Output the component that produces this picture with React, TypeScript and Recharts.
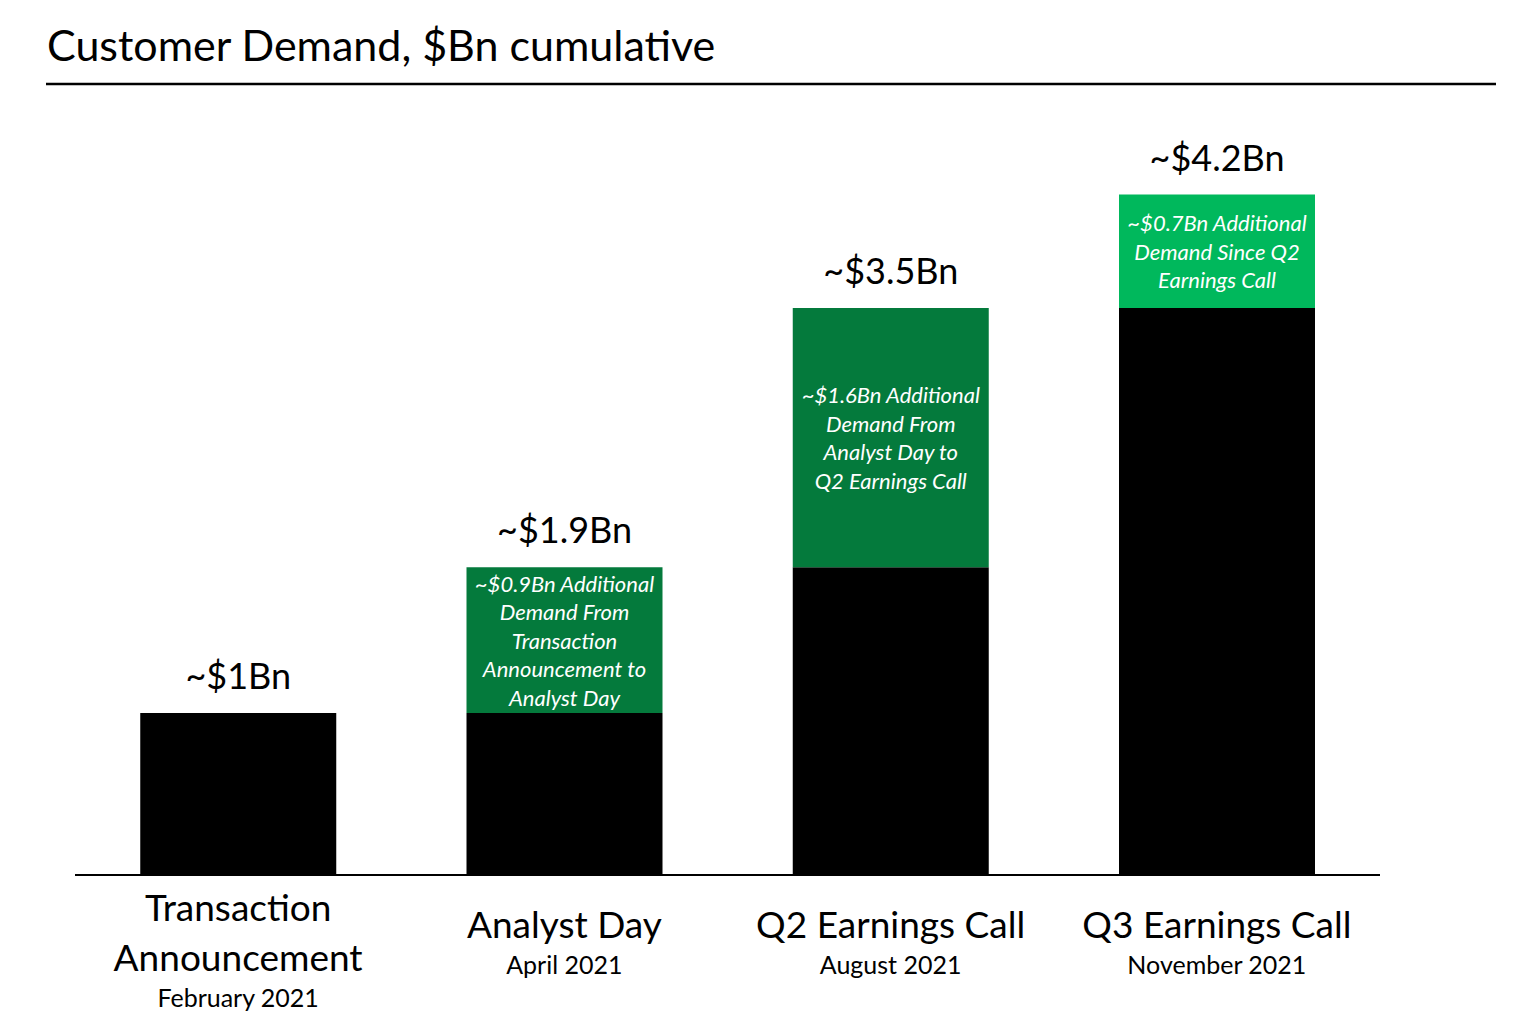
import React from "react";
import { BarChart, Bar, XAxis, YAxis, LabelList, Cell } from "recharts";

const categories = ["Transaction Announcement", "Analyst Day", "Q2 Earnings Call", "Q3 Earnings Call"];
const categoryLines = [["Transaction", "Announcement"], ["Analyst Day"], ["Q2 Earnings Call"], ["Q3 Earnings Call"]];
const dates = ["February 2021", "April 2021", "August 2021", "November 2021"];
const baseValues = [1, 1, 1.9, 3.5];
const addedValues = [0, 0.9, 1.6, 0.7];
const totalLabels = ["~$1Bn", "~$1.9Bn", "~$3.5Bn", "~$4.2Bn"];
const addedNotes = [
  [],
  ["~$0.9Bn Additional", "Demand From", "Transaction", "Announcement to", "Analyst Day"],
  ["~$1.6Bn Additional", "Demand From", "Analyst Day to", "Q2 Earnings Call"],
  ["~$0.7Bn Additional", "Demand Since Q2", "Earnings Call"],
];
const addedColors = ["#047A3C", "#047A3C", "#047A3C", "#00B85C"];

const data = categories.map((c, i) => ({
  name: c,
  base: baseValues[i],
  added: addedValues[i],
}));

const FONT = "Lato, 'Open Sans', sans-serif";

const AxisTick = (props: any) => {
  const { x, payload } = props;
  const idx = payload.index;
  const lines = categoryLines[idx] || [];
  const n = lines.length;
  const axisY = 875;
  const start = 48 - (n - 1) * 17;
  return (
    <g>
      {lines.map((l, k) => (
        <text key={k} x={x} y={axisY + start + k * 50} textAnchor="middle" dominantBaseline="central"
          fontFamily={FONT} fontSize={37} fill="#000">{l}</text>
      ))}
      <text x={x} y={axisY + start + (n - 1) * 50 + 41} textAnchor="middle" dominantBaseline="central"
        fontFamily={FONT} fontSize={25} fill="#000">{dates[idx]}</text>
    </g>
  );
};

const NoteLabel = (props: any) => {
  const { x, y, width, height, value } = props;
  const index = categories.indexOf(value);
  const lines = addedNotes[index] || [];
  const cx = x + width / 2;
  const cy = y + height / 2;
  const lh = 28.5;
  const top = cy - ((lines.length - 1) * lh) / 2;
  return (
    <g>
      {lines.map((l, k) => (
        <text key={k} x={cx} y={top + k * lh} textAnchor="middle" dominantBaseline="central"
          fontFamily={FONT} fontStyle="italic" fontSize={22} fill="#fff">{l}</text>
      ))}
    </g>
  );
};

// Placed on the base series; the stack top is derived from the base bar's own pixel scale.
const TotalLabel = (props: any) => {
  const { x, y, width, height, value } = props;
  const index = categories.indexOf(value);
  if (index < 0) return null;
  const pxPerUnit = height / baseValues[index];
  const bottom = y + height;
  const top = bottom - pxPerUnit * (baseValues[index] + addedValues[index]);
  return (
    <text x={x + width / 2} y={top - 38} textAnchor="middle" dominantBaseline="central"
      fontFamily={FONT} fontSize={36} fill="#000">{totalLabels[index]}</text>
  );
};

export default function App() {
  return (
    <div style={{ position: "absolute", left: 0, top: 0, width: 1520, height: 1028, background: "#fff" }}>
      <style>{`body{margin:0;}`}</style>
      <svg width={1520} height={100} style={{ position: "absolute", left: 0, top: 0 }}>
        <text x={47} y={61} fontFamily={FONT} fontSize={43} fill="#000">Customer Demand, $Bn cumulative</text>
        <line x1={46} x2={1496} y1={84} y2={84} stroke="#000" strokeWidth={2.5} />
      </svg>
      <div style={{ position: "absolute", left: 0, top: 0 }}>
        <BarChart width={1520} height={1028} data={data} margin={{ top: 65, right: 140, bottom: 0, left: 75 }}
          barCategoryGap="20%">
          <XAxis dataKey="name" axisLine={{ stroke: "#000", strokeWidth: 2 }} tickLine={false}
            height={153} tick={<AxisTick />} interval={0} />
          <YAxis hide domain={[0, 5]} />
          <Bar dataKey="base" stackId="a" fill="#000" isAnimationActive={false}>
            <LabelList dataKey="name" content={<TotalLabel />} />
          </Bar>
          <Bar dataKey="added" stackId="a" isAnimationActive={false}>
            {data.map((d, i) => (
              <Cell key={i} fill={addedColors[i]} />
            ))}
            <LabelList dataKey="name" content={<NoteLabel />} />
          </Bar>
        </BarChart>
      </div>
    </div>
  );
}
